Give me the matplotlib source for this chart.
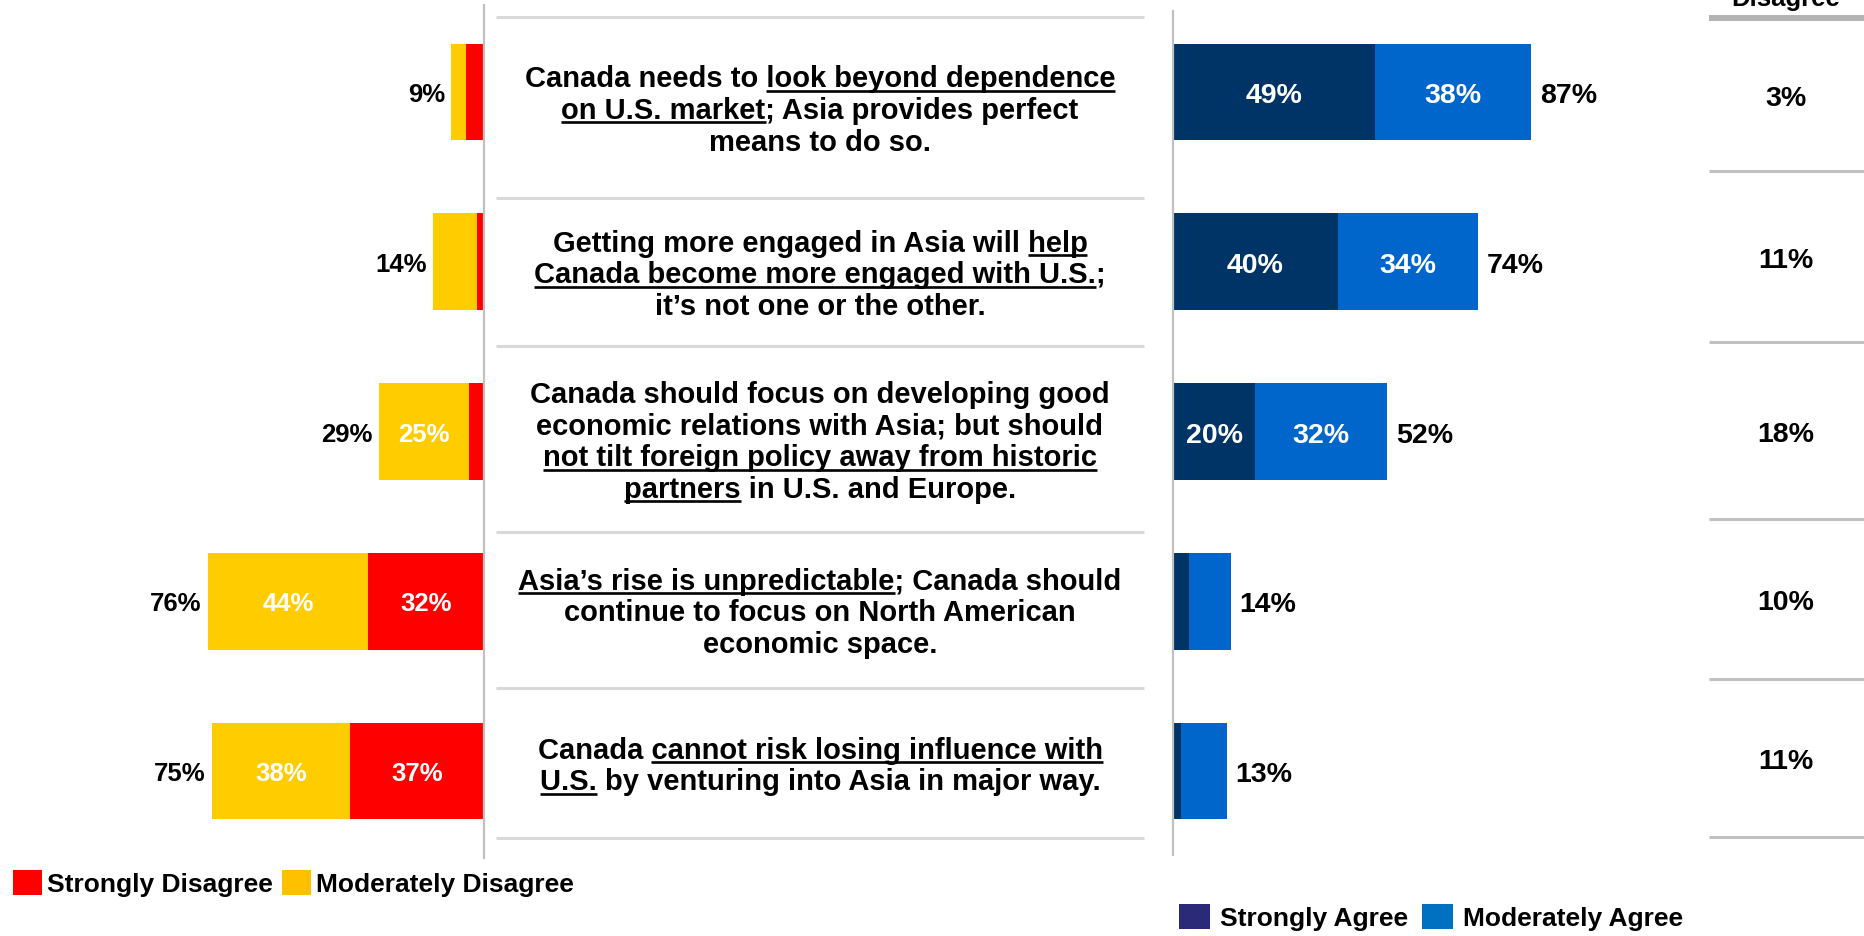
import matplotlib
matplotlib.use("Agg")
import matplotlib.pyplot as plt
from matplotlib.patches import Patch
from matplotlib.font_manager import FontProperties

# ---------------------------------------------------------------- data
statements = [
    ["Canada needs to __look beyond dependence__",
     "__on U.S. market__; Asia provides perfect",
     "means to do so."],
    ["Getting more engaged in Asia will __help__",
     "__Canada become more engaged with U.S.__;",
     "it\u2019s not one or the other."],
    ["Canada should focus on developing good",
     "economic relations with Asia; but should",
     "__not tilt foreign policy away from historic__",
     "__partners__ in U.S. and Europe."],
    ["__Asia\u2019s rise is unpredictable__; Canada should",
     "continue to focus on North American",
     "economic space."],
    ["Canada __cannot risk losing influence with__",
     "__U.S.__ by venturing into Asia in major way."],
]
strongly_disagree = [5, 2, 4, 32, 37]
moderately_disagree = [4, 12, 25, 44, 38]
strongly_agree = [49, 40, 20, 4, 2]
moderately_agree = [38, 34, 32, 10, 11]
neutral = [3, 11, 18, 10, 11]
neutral_header = "Neither Agree nor\nDisagree"
disagree_labels = ["Strongly Disagree", "Moderately Disagree"]
agree_labels = ["Strongly Agree", "Moderately Agree"]

# ---------------------------------------------------------------- style
W, H, DPI = 1865, 937, 100
RED, YELLOW = "#FF0000", "#FFCC00"
NAVY, BLUE = "#003366", "#0066CC"
LEG_RED, LEG_YEL = "#FF0000", "#FFC000"
LEG_NAVY, LEG_BLUE = "#2A2A78", "#0070C0"
FAMILY = "Liberation Sans"

fp_mid = FontProperties(family=FAMILY, weight="bold", size=21)
fp_left = FontProperties(family=FAMILY, weight="bold", size=18.5)
fp_right = FontProperties(family=FAMILY, weight="bold", size=20.5)
fp_leg = FontProperties(family=FAMILY, weight="bold", size=19)
fp_head = FontProperties(family=FAMILY, weight="bold", size=18.5)

fig = plt.figure(figsize=(W / DPI, H / DPI), dpi=DPI)
fig.patch.set_facecolor("white")
renderer = fig.canvas.get_renderer()

# overlay in pixel units (origin top-left) for the statement table
ax_o = fig.add_axes([0, 0, 1, 1])
ax_o.set_xlim(0, W)
ax_o.set_ylim(H, 0)
ax_o.axis("off")

n = len(statements)
rows = list(range(n))
BAR_H = 0.57


def cap_pts(fp):
    return 0.716 * fp.get_size_in_points()


# ---------------------------------------------------------------- left bars
ax_l = fig.add_axes([0, 1 - 859 / H, 484 / W, 853 / H])
ax_l.set_xlim(484 / 3.63, 0)
ax_l.set_ylim(n - 0.488, -0.512)
ax_l.barh(rows, strongly_disagree, height=BAR_H, color=RED)
ax_l.barh(rows, moderately_disagree, left=strongly_disagree, height=BAR_H, color=YELLOW)
for sp in ["left", "top", "bottom"]:
    ax_l.spines[sp].set_visible(False)
ax_l.spines["right"].set_color("#c0c0c0")
ax_l.spines["right"].set_linewidth(1.6)
ax_l.set_xticks([])
ax_l.set_yticks([])
ax_l.patch.set_alpha(0)

cl = cap_pts(fp_left)
for i in rows:
    s, m = strongly_disagree[i], moderately_disagree[i]
    ax_l.annotate(f"{s + m}%", xy=(s + m, i), xytext=(-4.5, -cl / 2),
                  textcoords="offset points", ha="right", va="baseline",
                  fontproperties=fp_left, color="black")
    for left, v in ((0, s), (s, m)):
        if v >= 20:
            ax_l.annotate(f"{v}%", xy=(left + v / 2, i), xytext=(0, -cl / 2),
                          textcoords="offset points", ha="center", va="baseline",
                          fontproperties=fp_left, color="white")

# ---------------------------------------------------------------- right bars
ax_r = fig.add_axes([1173 / W, 1 - 859 / H, (1700 - 1173) / W, 853 / H])
ax_r.set_xlim(0, (1700 - 1173) / 4.12)
ax_r.set_ylim(n - 0.488, -0.512)
ax_r.barh(rows, strongly_agree, height=BAR_H, color=NAVY)
ax_r.barh(rows, moderately_agree, left=strongly_agree, height=BAR_H, color=BLUE)
for sp in ["right", "top", "bottom"]:
    ax_r.spines[sp].set_visible(False)
ax_r.spines["left"].set_color("#c0c0c0")
ax_r.spines["left"].set_linewidth(1.6)
ax_r.spines["left"].set_bounds(n - 0.505, -0.477)
ax_r.set_xticks([])
ax_r.set_yticks([])
ax_r.patch.set_alpha(0)

cr = cap_pts(fp_right)
for i in rows:
    s, m = strongly_agree[i], moderately_agree[i]
    ax_r.annotate(f"{s + m}%", xy=(s + m, i), xytext=(6.5, -cr / 2),
                  textcoords="offset points", ha="left", va="baseline",
                  fontproperties=fp_right, color="black")
    for left, v in ((0, s), (s, m)):
        if v >= 20:
            ax_r.annotate(f"{v}%", xy=(left + v / 2, i), xytext=(0, -cr / 2),
                          textcoords="offset points", ha="center", va="baseline",
                          fontproperties=fp_right, color="white")

# ---------------------------------------------------------------- statement table
mid_edges = [18, 199, 347, 533, 689, 839]
MID_X0, MID_X1 = 496, 1144
XMID = (MID_X0 + MID_X1) / 2
LINE_GAP = 31.7
CAP_MID = 0.716 * fp_mid.get_size_in_points() * DPI / 72

for y in mid_edges:
    ax_o.plot([MID_X0, MID_X1], [y, y], color="#d9d9d9", lw=2.2,
              solid_capstyle="butt")


def width_px(s):
    return renderer.get_text_width_height_descent(s, fp_mid, ismath=False)[0]


BAR_W = width_px("|")
BAR_LSB = (width_px("||") - 2 * BAR_W) / 2


def advance(s):
    if not s:
        return 0.0
    return width_px(s + "|") - BAR_W - BAR_LSB


for r, lines in enumerate(statements):
    yc = (mid_edges[r] + mid_edges[r + 1]) / 2
    k_n = len(lines)
    for k, raw in enumerate(lines):
        parts = raw.split("__")
        plain = "".join(parts)
        ybase = yc + (k - (k_n - 1) / 2) * LINE_GAP + CAP_MID / 2
        t = ax_o.text(XMID, ybase, plain, ha="center", va="baseline",
                      fontproperties=fp_mid, color="black")
        x0 = t.get_window_extent(renderer).x0
        for j in range(1, len(parts), 2):
            prefix = "".join(parts[:j])
            xs = x0 + advance(prefix)
            xe = x0 + advance(prefix + parts[j])
            ax_o.plot([xs, xe], [ybase + 4.5, ybase + 4.5], color="black",
                      lw=1.9, solid_capstyle="butt")

# ---------------------------------------------------------------- neutral column
tab_edges = [172, 343, 520, 680, 838]
TAB_X0, TAB_XC = 1709, 1786
ax_o.plot([TAB_X0, W], [19, 19], color="#b3b3b3", lw=4.3, solid_capstyle="butt")
for y in tab_edges:
    ax_o.plot([TAB_X0, W], [y, y], color="#c0c0c0", lw=2.2, solid_capstyle="butt")
ax_o.text(TAB_XC, 11, neutral_header, ha="center", va="bottom",
          fontproperties=fp_head, color="black", linespacing=1.1)
CAP_R = 0.716 * fp_right.get_size_in_points() * DPI / 72
cells = [19] + tab_edges
for i, v in enumerate(neutral):
    yc = (cells[i] + cells[i + 1]) / 2
    ax_o.text(TAB_XC, yc + CAP_R / 2, f"{v}%", ha="center", va="baseline",
              fontproperties=fp_right, color="black")

# ---------------------------------------------------------------- legends
fs_leg = fp_leg.get_size_in_points() * DPI / 72
fig.legend(handles=[Patch(facecolor=LEG_RED, edgecolor="none", label=disagree_labels[0]),
                    Patch(facecolor=LEG_YEL, edgecolor="none", label=disagree_labels[1])],
           loc="center left", bbox_to_anchor=(13 / W, 1 - 884 / H), ncol=2,
           frameon=False, prop=fp_leg, handlelength=29 / fs_leg,
           handleheight=29 / fs_leg, handletextpad=5 / fs_leg,
           columnspacing=9 / fs_leg, borderpad=0, borderaxespad=0)
fig.legend(handles=[Patch(facecolor=LEG_NAVY, edgecolor="none", label=agree_labels[0]),
                    Patch(facecolor=LEG_BLUE, edgecolor="none", label=agree_labels[1])],
           loc="center left", bbox_to_anchor=(1179 / W, 1 - 918 / H), ncol=2,
           frameon=False, prop=fp_leg, handlelength=31 / fs_leg,
           handleheight=29 / fs_leg, handletextpad=10 / fs_leg,
           columnspacing=14 / fs_leg, borderpad=0, borderaxespad=0)

fig.savefig("out.png", dpi=DPI, facecolor="white")
